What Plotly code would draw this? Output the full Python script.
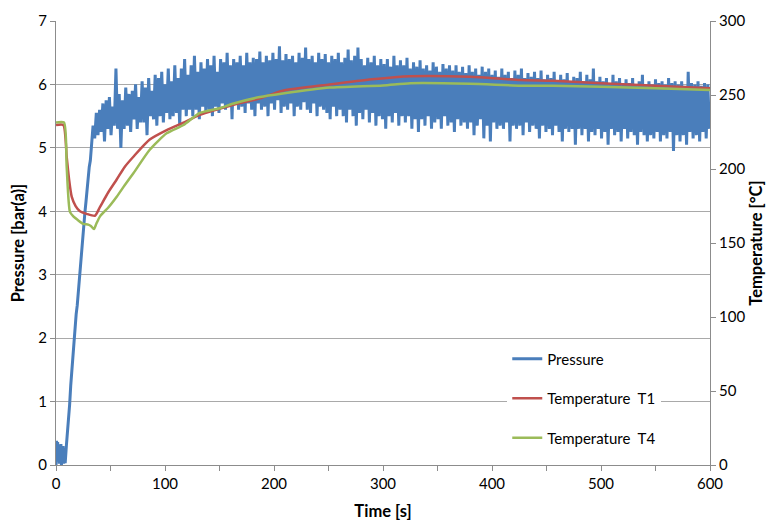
import numpy as np
import plotly.graph_objects as go

# ---------------- data ----------------
# Pressure [bar(a)] - start-up (noisy near zero), ramp, then noisy plateau
t_start = [0, 0.5, 1, 1.5, 2, 2.5, 3, 3.5, 4, 4.5, 5, 5.5, 6, 6.5, 7, 7.5, 8]
p_start = [0.0, 0.38, 0.05, 0.36, 0.1, 0.32, 0.02, 0.3, 0.06, 0.33, 0.0, 0.28, 0.04, 0.3, 0.02, 0.25, 0.05]

t_rise = [8.5, 9.5, 10.5, 11.5, 12.5, 13.5, 14.5, 15.5, 16.5, 17.5, 18.5, 19.5, 20.5,
          21.5, 22.5, 23.5, 24.5, 25.5, 26.5, 27.5, 28.5, 29.5, 30.5, 31.5, 32.5]
p_rise = [0.05, 0.3, 0.5, 0.78, 0.95, 1.25, 1.5, 1.78, 2.0, 2.18, 2.38, 2.52, 2.75,
          2.9, 3.12, 3.3, 3.58, 3.75, 3.98, 4.15, 4.35, 4.5, 4.7, 4.8, 5.0]

t_noise = np.arange(34, 600, 1.5)  # sample times of the plateau
p_noise = [
    5.35, 5.15, 5.55, 5.2, 5.6, 5.25, 5.7, 5.1, 5.75, 5.3,
    5.8, 5.2, 5.65, 5.35, 6.25, 5.3, 5.85, 5.0, 5.75, 5.3,
    5.95, 5.35, 5.85, 5.25, 5.9, 5.45, 6.0, 5.3, 5.8, 5.4,
    6.05, 5.4, 5.95, 5.2, 6.1, 5.5, 5.9, 5.45, 6.15, 5.35,
    6.1, 5.5, 6.2, 5.4, 6.0, 5.55, 6.25, 5.45, 6.05, 5.5,
    6.3, 5.55, 6.1, 5.35, 6.25, 5.6, 6.4, 5.5, 6.15, 5.6,
    6.3, 5.5, 6.45, 5.6, 6.2, 5.45, 6.35, 5.65, 6.25, 5.55,
    6.4, 5.6, 6.3, 5.5, 6.45, 5.65, 6.2, 5.55, 6.4, 5.7,
    6.35, 5.6, 6.5, 5.65, 6.3, 5.45, 6.4, 5.7, 6.35, 5.6,
    6.45, 5.65, 6.3, 5.55, 6.5, 5.7, 6.35, 5.6, 6.42, 5.5,
    6.4, 5.7, 6.52, 5.6, 6.35, 5.65, 6.45, 5.5, 6.38, 5.7,
    6.5, 5.6, 6.4, 5.75, 6.6, 5.55, 6.38, 5.65, 6.48, 5.6,
    6.4, 5.7, 6.45, 5.5, 6.35, 5.65, 6.5, 5.6, 6.42, 5.72,
    6.58, 5.6, 6.4, 5.55, 6.45, 5.7, 6.35, 5.5, 6.5, 5.65,
    6.4, 5.6, 6.48, 5.55, 6.35, 5.45, 6.45, 5.65, 6.4, 5.5,
    6.5, 5.6, 6.35, 5.5, 6.42, 5.4, 6.55, 5.6, 6.38, 5.5,
    6.45, 5.35, 6.58, 5.55, 6.4, 5.45, 6.3, 5.6, 6.42, 5.4,
    6.35, 5.55, 6.45, 5.35, 6.3, 5.5, 6.4, 5.45, 6.32, 5.3,
    6.4, 5.5, 6.28, 5.4, 6.45, 5.55, 6.3, 5.35, 6.38, 5.5,
    6.3, 5.4, 6.42, 5.5, 6.25, 5.3, 6.35, 5.45, 6.28, 5.25,
    6.38, 5.45, 6.25, 5.35, 6.3, 5.5, 6.22, 5.3, 6.35, 5.4,
    6.28, 5.45, 6.2, 5.3, 6.32, 5.5, 6.25, 5.35, 6.3, 5.4,
    6.22, 5.25, 6.3, 5.45, 6.2, 5.35, 6.28, 5.4, 6.18, 5.3,
    6.3, 5.4, 6.2, 5.2, 6.25, 5.35, 6.15, 5.45, 6.28, 5.15,
    6.2, 5.35, 6.25, 5.1, 6.15, 5.4, 6.22, 5.3, 6.12, 5.35,
    6.25, 5.3, 6.15, 5.4, 6.2, 5.1, 6.1, 5.35, 6.22, 5.3,
    6.15, 5.35, 6.25, 5.2, 6.1, 5.4, 6.18, 5.25, 6.12, 5.35,
    6.2, 5.3, 6.1, 5.15, 6.22, 5.35, 6.08, 5.25, 6.15, 5.3,
    6.1, 5.2, 6.2, 5.35, 6.05, 5.25, 6.15, 5.1, 6.08, 5.3,
    6.18, 5.25, 6.05, 5.3, 6.12, 5.05, 6.1, 5.3, 6.2, 5.2,
    6.05, 5.3, 6.15, 5.1, 6.08, 5.25, 6.25, 5.2, 6.05, 5.3,
    6.12, 5.15, 6.05, 5.25, 6.1, 5.05, 6.02, 5.3, 6.15, 5.2,
    6.05, 5.25, 6.1, 5.1, 6.0, 5.3, 6.08, 5.15, 6.02, 5.25,
    6.1, 5.2, 6.0, 5.05, 6.05, 5.25, 6.15, 5.2, 6.0, 5.1,
    6.05, 5.2, 6.0, 5.15, 6.08, 5.25, 6.02, 5.1, 6.05, 5.2,
    6.0, 5.15, 6.1, 5.25, 6.02, 4.95, 6.05, 5.2, 6.0, 5.1,
    6.05, 5.2, 5.98, 5.05, 6.2, 5.25, 6.02, 5.15, 6.0, 5.2,
    6.05, 5.1, 5.98, 5.25, 6.02, 5.15, 6.0, 5.3,
]

time_pressure = list(t_start) + list(t_rise) + list(t_noise)
pressure = p_start + p_rise + p_noise

# Temperature T1 [°C]
time_t1 = [0, 6.7, 9.8, 12, 14.4, 18, 22, 28, 35.7, 40.4, 48, 55.7, 63, 71, 86, 101.5,
           117, 132, 163, 187, 208, 251, 290, 325, 380, 426, 456, 500, 550, 600]
temp_t1 = [229.7, 229.7, 208.3, 193.0, 181.3, 174.9, 171.4, 169.7, 168.4, 174.4, 184.3,
           192.9, 201.4, 208.3, 219.9, 226.3, 231.4, 236.6, 243.4, 247.7, 252.9, 257.1,
           260.6, 262.7, 262.3, 260.1, 259.7, 258.0, 256.3, 254.6]

# Temperature T4 [°C]
time_t4 = [0, 7.3, 9.8, 12.8, 15.9, 20, 25, 29.6, 32, 34.8, 37, 40.4, 48, 55.7, 63, 71,
           86, 101.5, 117, 132, 150, 163, 187, 208, 251, 300, 325, 380, 426, 456, 500,
           550, 600]
temp_t4 = [231.4, 231.4, 201.4, 171.0, 168.0, 165.5, 162.9, 162.4, 161.5, 159.4, 163.0,
           168.0, 174.0, 181.3, 189.0, 197.1, 213.0, 224.1, 229.7, 237.9, 241.0, 244.3,
           248.6, 251.0, 255.0, 256.5, 258.0, 257.6, 256.3, 256.3, 255.5, 254.5, 253.3]

# ---------------- figure ----------------
FONT = "Lato, 'Open Sans', sans-serif"
GRID = "#a9a9a9"
AXIS = "#8c8c8c"

fig = go.Figure()
fig.add_trace(go.Scatter(x=time_pressure, y=pressure, mode="lines", name="Pressure",
                         line=dict(color="#4a7ebb", width=3), legendgroup="p"))
fig.add_trace(go.Scatter(x=time_t1, y=temp_t1, mode="lines", name="Temperature  T1",
                         line=dict(color="#c0504d", width=2.5, shape="spline", smoothing=0.6),
                         yaxis="y2", legendgroup="t1"))
fig.add_trace(go.Scatter(x=time_t4, y=temp_t4, mode="lines", name="Temperature  T4",
                         line=dict(color="#9bbb59", width=2.5, shape="spline", smoothing=0.6),
                         yaxis="y2", legendgroup="t4"))

# page has an 8px body margin -> figure is 766x513, offset by 8px
fig.update_layout(
    width=766, height=513, autosize=False,
    margin=dict(l=48, r=64, t=13, b=56),
    paper_bgcolor="white", plot_bgcolor="white",
    font=dict(family=FONT, size=15, color="#000000"),
    xaxis=dict(range=[0, 600], dtick=100, tick0=0, showgrid=False, zeroline=False,
               showline=True, linecolor=AXIS, linewidth=1, automargin=False,
               ticks="outside", ticklen=5, tickcolor=AXIS,
               minor=dict(dtick=50, ticks="outside", ticklen=5, tickcolor=AXIS, showgrid=False),
               title=dict(text="<b>Time [s]</b>", font=dict(size=16.5), standoff=15)),
    yaxis=dict(range=[0, 7], dtick=1, showgrid=True, gridcolor=GRID, gridwidth=1,
               zeroline=False, showline=True, linecolor=AXIS, linewidth=1, automargin=False,
               ticks="outside", ticklen=5, tickcolor=AXIS,
               title=dict(text="<b>Pressure [bar(a)]</b>", font=dict(size=16.5), standoff=10)),
    yaxis2=dict(range=[0, 300], dtick=50, overlaying="y", side="right", showgrid=False,
                zeroline=False, showline=True, linecolor=AXIS, linewidth=1, automargin=False,
                ticks="outside", ticklen=5, tickcolor=AXIS,
                title=dict(text="<b>Temperature [°C]</b>", font=dict(size=16.5), standoff=6)),
    legend=dict(x=0.69, y=0.276, xanchor="left", yanchor="top", bgcolor="white",
                font=dict(size=15), tracegroupgap=17, itemwidth=30),
    showlegend=True,
)

fig.write_html("out.html")
